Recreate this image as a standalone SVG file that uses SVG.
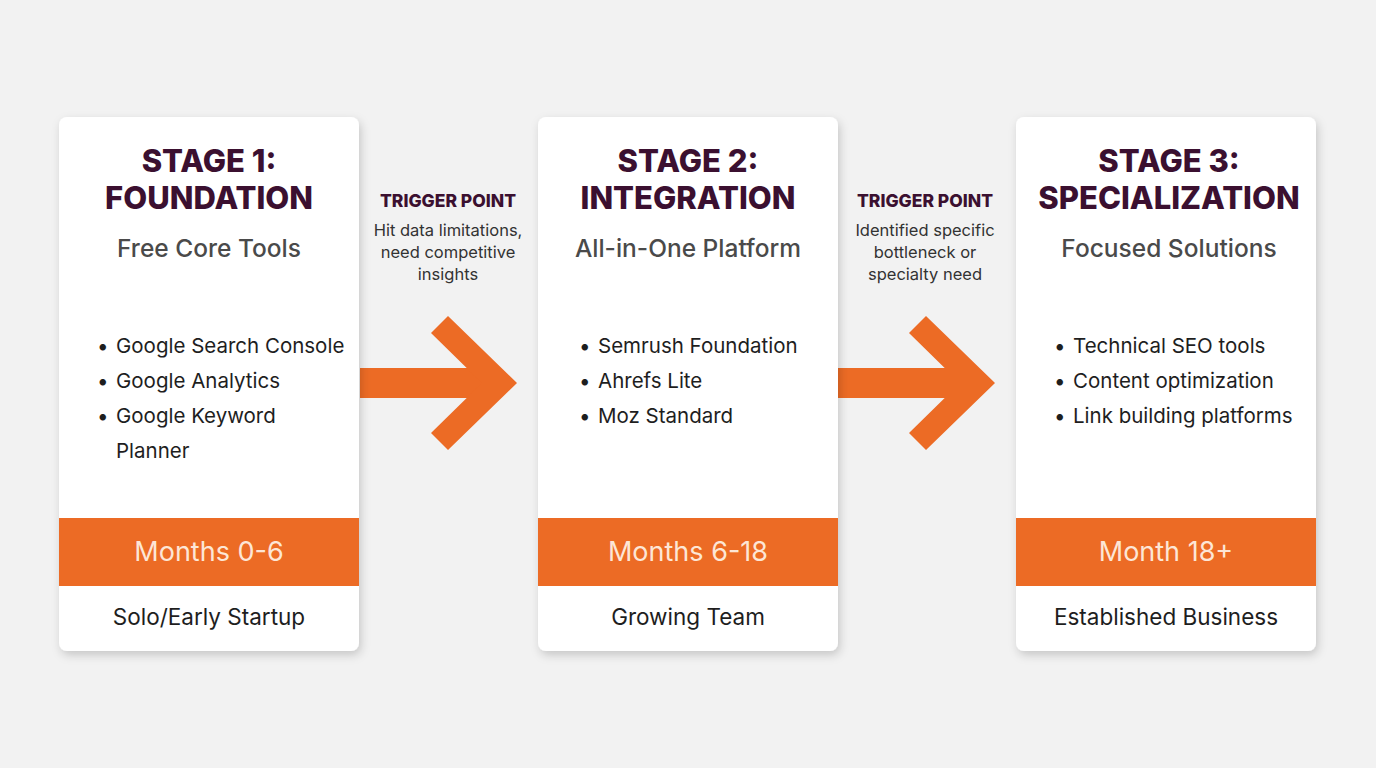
<svg xmlns="http://www.w3.org/2000/svg" width="1376" height="768" viewBox="0 0 1376 768">
<defs>
<filter id="sh" x="-10%" y="-10%" width="125%" height="125%"><feDropShadow dx="2" dy="4" stdDeviation="5" flood-color="#000" flood-opacity="0.18"/></filter>
<style>
text{font-family:Inter,"Noto Sans","Liberation Sans",sans-serif}
.card{fill:#fff;filter:url(#sh)}
.band{fill:#ec6b25}
.t{font-size:31px;font-weight:800;fill:#3b1030;text-anchor:middle}
.s{font-size:24.5px;font-weight:500;fill:#4a4a4a;text-anchor:middle}
.b{font-size:20.5px;fill:#1e1e1e}
.m{font-size:27px;fill:#fde6d6;text-anchor:middle}
.f{font-size:22.5px;fill:#1e1e1e;text-anchor:middle}
.tp{font-size:17.5px;font-weight:800;fill:#3b1030;text-anchor:middle}
.td{font-size:16.5px;fill:#333;text-anchor:middle}
.ar{fill:#ec6b25}
</style>
</defs>
<rect width="1376" height="768" fill="#f2f2f2"/>
<g id="connectors">
<g class="ar"><rect x="360" y="368" width="130" height="30"/><polygon points="448,316 517,383 448,450 431,433 482,383 431,333"/></g>
<g class="ar"><rect x="838" y="368" width="130" height="30"/><polygon points="926,316 995,383 926,450 909,433 960,383 909,333"/></g>
<text class="tp" x="448" y="207">TRIGGER POINT</text>
<text class="td" x="448" y="236">Hit data limitations,</text>
<text class="td" x="448" y="258">need competitive</text>
<text class="td" x="448" y="280">insights</text>
<text class="tp" x="925" y="207">TRIGGER POINT</text>
<text class="td" x="925" y="236">Identified specific</text>
<text class="td" x="925" y="258">bottleneck or</text>
<text class="td" x="925" y="280">specialty need</text>
</g>
<g id="stage1">
<rect class="card" x="59" y="117" width="300" height="534" rx="8"/>
<text class="t" x="209" y="172">STAGE 1:</text>
<text class="t" x="209" y="209">FOUNDATION</text>
<text class="s" x="209" y="257">Free Core Tools</text>
<text class="b" x="97" y="353">• <tspan x="116">Google Search Console</tspan></text>
<text class="b" x="97" y="388">• <tspan x="116">Google Analytics</tspan></text>
<text class="b" x="97" y="423">• <tspan x="116">Google Keyword</tspan></text>
<text class="b" x="116" y="458">Planner</text>
<rect class="band" x="59" y="518" width="300" height="68"/>
<text class="m" x="209" y="561">Months 0-6</text>
<text class="f" x="209" y="625">Solo/Early Startup</text>
</g>
<g id="stage2">
<rect class="card" x="538" y="117" width="300" height="534" rx="8"/>
<text class="t" x="688" y="172">STAGE 2:</text>
<text class="t" x="688" y="209">INTEGRATION</text>
<text class="s" x="688" y="257">All-in-One Platform</text>
<text class="b" x="579" y="353">• <tspan x="598">Semrush Foundation</tspan></text>
<text class="b" x="579" y="388">• <tspan x="598">Ahrefs Lite</tspan></text>
<text class="b" x="579" y="423">• <tspan x="598">Moz Standard</tspan></text>
<rect class="band" x="538" y="518" width="300" height="68"/>
<text class="m" x="688" y="561">Months 6-18</text>
<text class="f" x="688" y="625">Growing Team</text>
</g>
<g id="stage3">
<rect class="card" x="1016" y="117" width="300" height="534" rx="8"/>
<text class="t" x="1169" y="172">STAGE 3:</text>
<text class="t" x="1169" y="209">SPECIALIZATION</text>
<text class="s" x="1169" y="257">Focused Solutions</text>
<text class="b" x="1054" y="353">• <tspan x="1073">Technical SEO tools</tspan></text>
<text class="b" x="1054" y="388">• <tspan x="1073">Content optimization</tspan></text>
<text class="b" x="1054" y="423">• <tspan x="1073">Link building platforms</tspan></text>
<rect class="band" x="1016" y="518" width="300" height="68"/>
<text class="m" x="1166" y="561">Month 18+</text>
<text class="f" x="1166" y="625">Established Business</text>
</g>
</svg>
